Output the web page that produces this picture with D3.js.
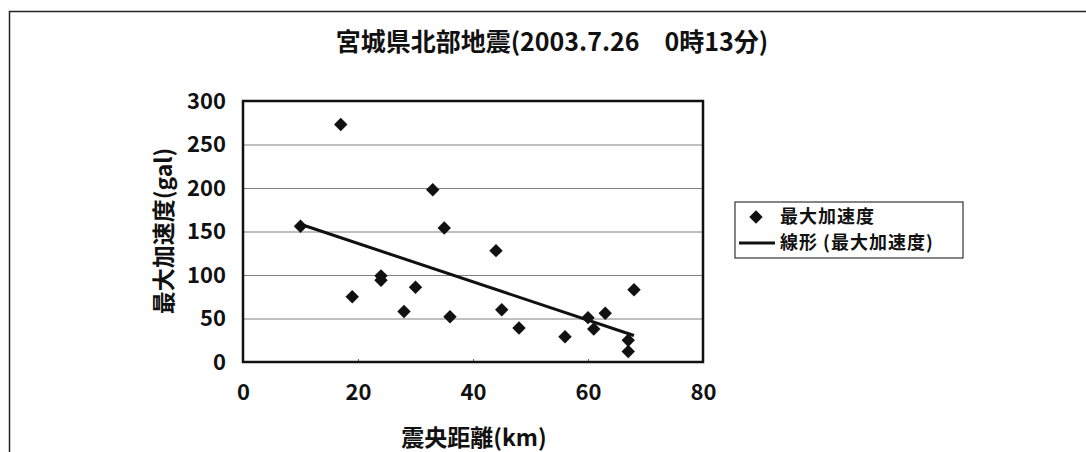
<!DOCTYPE html>
<html>
<head>
<meta charset="utf-8">
<script src="https://d3js.org/d3.v7.min.js"></script>
<style>
  body { margin: 0; background: #fff; }
  text { font-family: "Noto Sans CJK JP", sans-serif; font-weight: bold; fill: #111; }
  .grid line { stroke: #808080; stroke-width: 1; }
</style>
</head>
<body>
<div id="chart"></div>
<script>

// epicentral distance (km) and peak acceleration (gal)
var distance = [10, 17, 19, 24, 24, 28, 30, 33, 35, 36, 44, 45, 48, 56, 60, 61, 63, 67, 67, 68];
var peakAcc  = [156, 273, 75, 99, 94, 58, 86, 198, 154, 52, 128, 60, 39, 29, 51, 38, 56, 25, 12, 83];

var xTicks = [0, 20, 40, 60, 80];
var yTicks = [0, 50, 100, 150, 200, 250, 300];

var titleText = "宮城県北部地震(2003.7.26\u30000時13分)";
var xTitle = "震央距離(km)";
var yTitle = "最大加速度(gal)";
var legendText = ["最大加速度", "線形 (最大加速度)"];

var points = distance.map(function(d, i) { return {x: d, y: peakAcc[i]}; });

// Excel style linear trend line (least squares)
var mx = d3.mean(distance), my = d3.mean(peakAcc);
var sxy = d3.sum(points, function(d) { return (d.x - mx) * (d.y - my); });
var sxx = d3.sum(points, function(d) { return (d.x - mx) * (d.x - mx); });
var slope = sxy / sxx, intercept = my - slope * mx;
var trend = d3.extent(distance).map(function(d) { return {x: d, y: intercept + slope * d}; });

var W = 1086, H = 452;
var margin = {top: 101, right: 383, bottom: 90, left: 243},
    width = W - margin.left - margin.right,
    height = H - margin.top - margin.bottom;

var svg = d3.select("#chart")
  .append("svg")
    .attr("width", W)
    .attr("height", H);

// outer chart frame (only top and left edge are in the picture)
svg.append("path")
    .attr("d", "M9.5," + H + "V11.5H" + W)
    .attr("fill", "none")
    .attr("stroke", "#222")
    .attr("stroke-width", 1.5);

var x = d3.scaleLinear().domain([0, 80]).range([0, width]);
var y = d3.scaleLinear().domain([0, 300]).range([height, 0]);

var g = svg.append("g")
    .attr("transform", "translate(" + margin.left + "," + margin.top + ")");

// gridlines
g.append("g")
    .attr("class", "grid")
    .call(d3.axisLeft(y).tickValues(yTicks.slice(1, -1)).tickSize(-width).tickFormat(""))
    .call(function(s) { s.select(".domain").remove(); });

// small inner ticks
g.append("g")
    .attr("transform", "translate(0," + height + ")")
    .call(d3.axisBottom(x).tickValues(xTicks).tickSize(-3).tickFormat(""))
    .call(function(s) {
      s.select(".domain").remove();
      s.selectAll("line").attr("stroke", "#666");
    });

// title
svg.append("text")
    .attr("x", 552)
    .attr("y", 51)
    .attr("text-anchor", "middle")
    .style("font-size", "25px")
    .text(titleText);

// y axis labels
g.append("g")
    .call(d3.axisLeft(y).tickValues(yTicks).tickSize(0).tickPadding(17))
    .call(function(s) {
      s.select(".domain").remove();
      s.selectAll("text").style("font-size", "22px").attr("fill", "#111");
    });

// x axis labels
g.append("g")
    .attr("transform", "translate(0," + height + ")")
    .call(d3.axisBottom(x).tickValues(xTicks).tickSize(0).tickPadding(22))
    .call(function(s) {
      s.select(".domain").remove();
      s.selectAll("text").style("font-size", "22px").attr("fill", "#111");
    });

// axis titles
svg.append("text")
    .attr("x", 474)
    .attr("y", 446)
    .attr("text-anchor", "middle")
    .style("font-size", "23px")
    .text(xTitle);

svg.append("text")
    .attr("transform", "translate(172,231) rotate(-90)")
    .attr("text-anchor", "middle")
    .style("font-size", "23px")
    .text(yTitle);

// trend line
var line = d3.line()
    .x(function(d) { return x(d.x); })
    .y(function(d) { return y(d.y); });

g.append("path")
    .datum(trend)
    .attr("d", line)
    .attr("fill", "none")
    .attr("stroke", "#111")
    .attr("stroke-width", 3);

// markers
var diamond = d3.symbol().type(d3.symbolSquare).size(90);

g.selectAll(".pt")
    .data(points)
  .enter().append("path")
    .attr("class", "pt")
    .attr("d", diamond)
    .attr("transform", function(d) { return "translate(" + x(d.x) + "," + y(d.y) + ") rotate(45)"; })
    .attr("fill", "#111");

// plot border
g.append("rect")
    .attr("width", width)
    .attr("height", height)
    .attr("fill", "none")
    .attr("stroke", "#111")
    .attr("stroke-width", 2.5);

// legend
var legend = svg.append("g").attr("transform", "translate(735,202)");

legend.append("rect")
    .attr("width", 228)
    .attr("height", 56)
    .attr("fill", "#fff")
    .attr("stroke", "#333")
    .attr("stroke-width", 1.2);

legend.append("path")
    .attr("d", diamond)
    .attr("transform", "translate(21,15) rotate(45)")
    .attr("fill", "#111");

legend.append("line")
    .attr("x1", 4).attr("x2", 40)
    .attr("y1", 41).attr("y2", 41)
    .attr("stroke", "#111")
    .attr("stroke-width", 3);

legend.selectAll(".lt")
    .data(legendText)
  .enter().append("text")
    .attr("class", "lt")
    .attr("x", 45)
    .attr("y", function(d, i) { return 15 + i * 26; })
    .attr("dy", "0.35em")
    .style("font-size", "18px")
    .style("letter-spacing", "1px")
    .text(function(d) { return d; });

</script>
</body>
</html>
